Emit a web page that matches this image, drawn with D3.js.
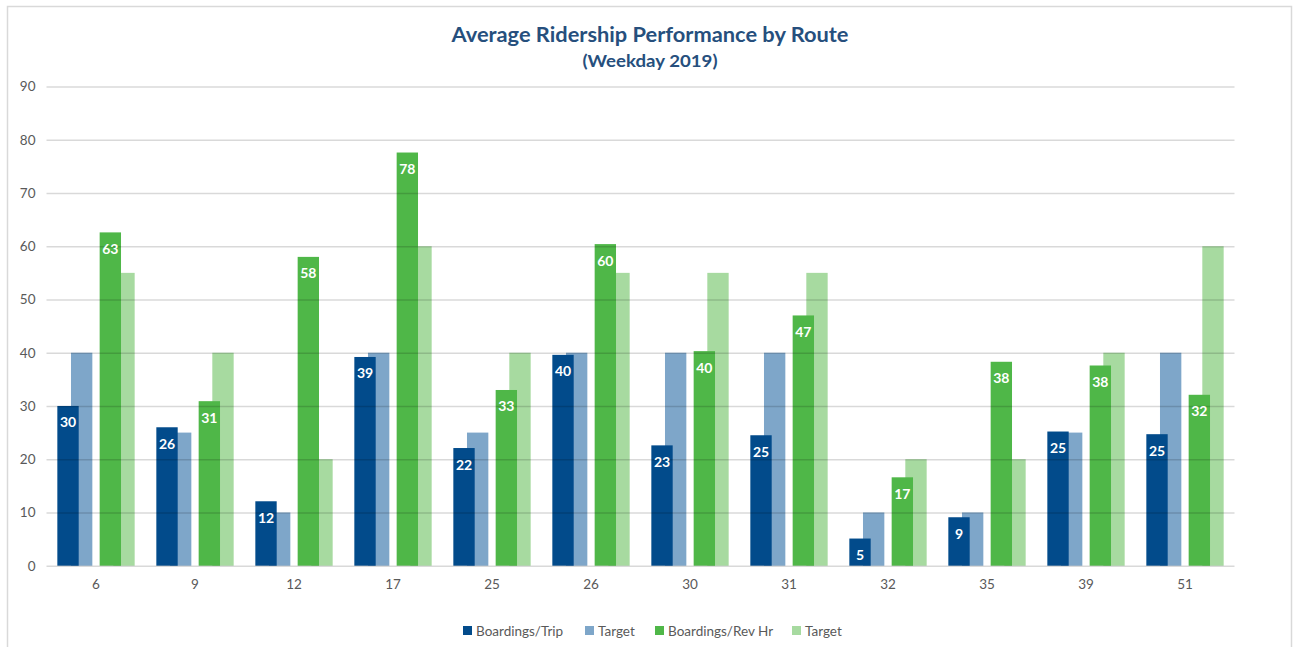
<!DOCTYPE html>
<html>
<head>
<meta charset="utf-8">
<script src="https://cdn.jsdelivr.net/npm/d3@7"></script>
<style>
  html, body { margin: 0; padding: 0; background: #fff; }
  svg { display: block; }
</style>
</head>
<body>
<svg id="chart" width="1296" height="647"></svg>
<script>
// Routes and weekday 2019 ridership measures
const routes = ["6", "9", "12", "17", "25", "26", "30", "31", "32", "35", "39", "51"];
const boardingsPerTrip = [30.0, 26.0, 12.1, 39.2, 22.1, 39.6, 22.6, 24.5, 5.1, 9.1, 25.2, 24.7];
const tripTarget       = [40, 25, 10, 40, 25, 40, 40, 40, 10, 10, 25, 40];
const boardingsPerHour = [62.6, 30.9, 58.0, 77.6, 33.0, 60.4, 40.3, 47.0, 16.6, 38.3, 37.6, 32.1];
const hourTarget       = [55, 40, 20, 60, 40, 55, 55, 55, 20, 20, 40, 60];
const yTicks = [0, 10, 20, 30, 40, 50, 60, 70, 80, 90];
const legendLabels = ["Boardings/Trip", "Target", "Boardings/Rev Hr", "Target"];

const colors = {
  trip: "#024b8b",
  tripTarget: "#7ea6c9",
  hour: "#4fb748",
  hourTarget: "#a7daa0"
};

const svg = d3.select("#chart");
const font = "Lato, 'Open Sans', sans-serif";

// Chart frame
svg.append("rect")
  .attr("x", 7.5).attr("y", 6.5)
  .attr("width", 1284).attr("height", 660)
  .attr("fill", "#fff")
  .attr("stroke", "#d9d9d9")
  .attr("stroke-width", 1.5);

// Titles
svg.append("text")
  .attr("x", 650).attr("y", 42)
  .attr("text-anchor", "middle")
  .attr("font-family", font)
  .attr("font-weight", "bold")
  .attr("font-size", 20)
  .attr("fill", "#264f7d")
  .attr("textLength", 397)
  .attr("lengthAdjust", "spacingAndGlyphs")
  .text("Average Ridership Performance by Route");

svg.append("text")
  .attr("x", 650).attr("y", 67)
  .attr("text-anchor", "middle")
  .attr("font-family", font)
  .attr("font-weight", "bold")
  .attr("font-size", 17)
  .attr("fill", "#264f7d")
  .attr("textLength", 135)
  .attr("lengthAdjust", "spacingAndGlyphs")
  .text("(Weekday 2019)");

// Scales
const plot = { left: 46.5, right: 1234.5, top: 86.5, bottom: 565.7 };
const x = d3.scaleBand().domain(routes).range([plot.left, plot.right]).padding(0);
const y = d3.scaleLinear().domain([0, 90]).range([plot.bottom, plot.top]);

// Two measure pairs per route; each pair holds an actual bar and its target bar
const pairScale = d3.scaleBand()
  .domain(["trip", "hour"])
  .range([0, x.bandwidth()])
  .paddingInner(0.173)
  .paddingOuter(0.256);
const barW = pairScale.bandwidth() * 0.61;

const series = [
  { key: "tripTarget", pair: "trip", slot: 1, values: tripTarget, label: false },
  { key: "trip",       pair: "trip", slot: 0, values: boardingsPerTrip, label: true },
  { key: "hourTarget", pair: "hour", slot: 1, values: hourTarget, label: false },
  { key: "hour",       pair: "hour", slot: 0, values: boardingsPerHour, label: true }
];

function barX(s, i) {
  const base = x(routes[i]) + pairScale(s.pair);
  return s.slot === 0 ? base : base + pairScale.bandwidth() - barW;
}

const barsG = svg.append("g");
series.forEach(s => {
  barsG.selectAll(null)
    .data(s.values)
    .join("rect")
    .attr("x", (d, i) => barX(s, i))
    .attr("y", d => y(d))
    .attr("width", barW)
    .attr("height", d => y(0) - y(d))
    .attr("fill", colors[s.key]);
});

// Gridlines drawn over the bars with translucent grey
const yAxis = d3.axisLeft(y)
  .tickValues(yTicks)
  .tickSize(-(plot.right - plot.left))
  .tickPadding(11)
  .tickFormat(d3.format("d"));

const yG = svg.append("g")
  .attr("transform", `translate(${plot.left},0)`)
  .call(yAxis);
yG.select(".domain").remove();
yG.selectAll(".tick line")
  .attr("stroke", "rgba(0,0,0,0.15)")
  .attr("stroke-width", 1.5);
yG.selectAll(".tick text")
  .attr("font-family", font)
  .attr("font-size", 13.5)
  .attr("fill", "#595959");

// Category axis labels
const xAxis = d3.axisBottom(x).tickSize(0).tickPadding(14);
const xG = svg.append("g")
  .attr("transform", `translate(0,${plot.bottom})`)
  .call(xAxis);
xG.select(".domain").remove();
xG.selectAll(".tick text")
  .attr("font-family", font)
  .attr("font-size", 13.5)
  .attr("fill", "#595959");

// Value labels inside the top of each actual bar
series.filter(s => s.label).forEach(s => {
  svg.append("g").selectAll("text")
    .data(s.values)
    .join("text")
    .attr("x", (d, i) => barX(s, i) + barW / 2)
    .attr("y", d => y(d) + 21.5)
    .attr("text-anchor", "middle")
    .attr("font-family", font)
    .attr("font-weight", "bold")
    .attr("font-size", 14)
    .attr("fill", "#fff")
    .text(d => Math.round(d));
});

// Legend
const legendKeys = ["trip", "tripTarget", "hour", "hourTarget"];
const legendX = [463, 585, 655, 792];
const legend = svg.append("g");
legendKeys.forEach((k, i) => {
  legend.append("rect")
    .attr("x", legendX[i]).attr("y", 626)
    .attr("width", 9).attr("height", 9)
    .attr("fill", colors[k]);
  legend.append("text")
    .attr("x", legendX[i] + 13).attr("y", 635.5)
    .attr("font-family", font)
    .attr("font-size", 13.5)
    .attr("fill", "#595959")
    .text(legendLabels[i]);
});
</script>
</body>
</html>
